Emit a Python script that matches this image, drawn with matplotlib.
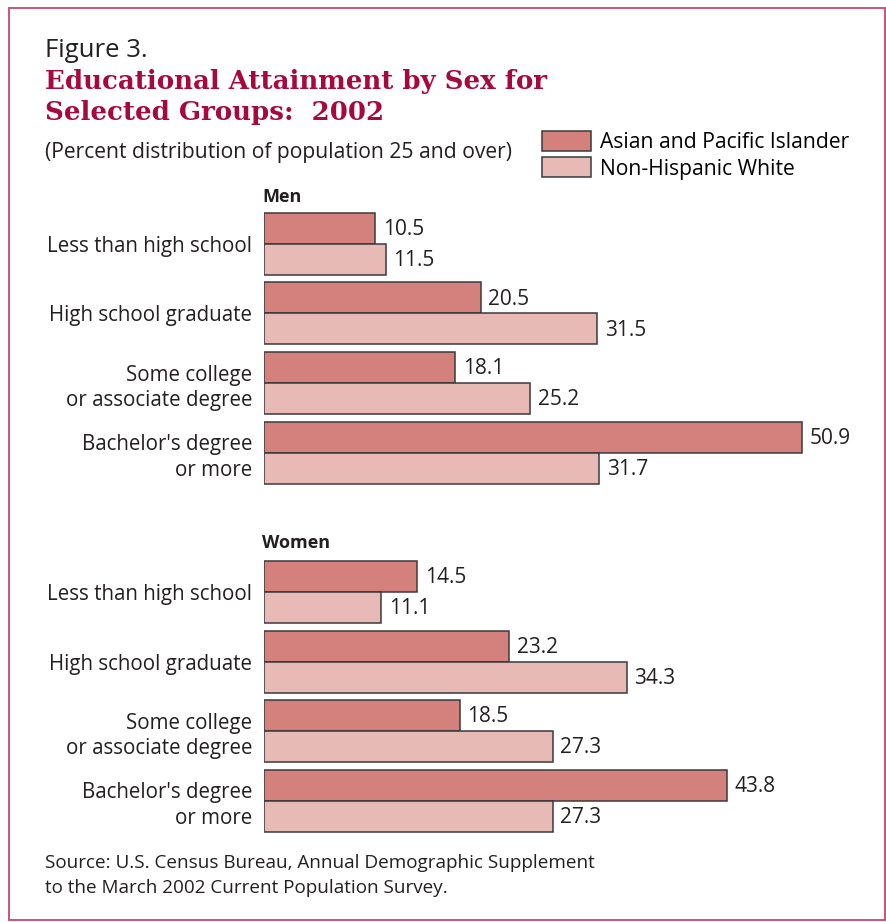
import matplotlib.pyplot as plt
from matplotlib.patches import Rectangle

categories = ["Less than high school", "High school graduate",
              "Some college\nor associate degree", "Bachelor's degree\nor more"]
series_names = ["Asian and Pacific Islander", "Non-Hispanic White"]
men_api = [10.5, 20.5, 18.1, 50.9]
men_white = [11.5, 31.5, 25.2, 31.7]
women_api = [14.5, 23.2, 18.5, 43.8]
women_white = [11.1, 34.3, 27.3, 27.3]

W, H = 886, 922
dark = "#d4807c"
light = "#e7bab6"
edge = "#3a3a3a"
red = "#a6093d"
txt = "#231f20"
body = "Open Sans"

fig = plt.figure(figsize=(W / 100, H / 100), dpi=100)


def fx(x):
    return x / W


def fy(y):
    return 1 - y / H


# frame
fig.patches.append(Rectangle((fx(9), fy(920)), fx(885) - fx(9), fy(8) - fy(920),
                             transform=fig.transFigure, fill=False,
                             edgecolor="#c8476e", linewidth=1.3))

px_per_unit = 10.57
left_px = 264
bar_h = 31 / 69.5


def panel(top_center, api, white, name, name_y):
    top = top_center - 34.75
    bottom = top + 4 * 69.5
    ax = fig.add_axes([fx(left_px), fy(bottom), fx(W - left_px), fy(top) - fy(bottom)])
    ys = list(range(len(categories)))
    b1 = ax.barh([y - bar_h / 2 for y in ys], api, height=bar_h, color=dark,
                 edgecolor=edge, linewidth=1.1)
    b2 = ax.barh([y + bar_h / 2 for y in ys], white, height=bar_h, color=light,
                 edgecolor=edge, linewidth=1.1)
    for bars, vals in ((b1, api), (b2, white)):
        for b, v in zip(bars, vals):
            ax.annotate(f"{v:.1f}", (v, b.get_y() + b.get_height() / 2),
                        xytext=(5.5, -1), textcoords="offset points",
                        va="center", ha="left", fontsize=15, color=txt,
                        family=body)
    ax.set_xlim(0, (W - left_px) / px_per_unit)
    ax.set_ylim(3.5, -0.5)
    ax.set_yticks(ys)
    ax.set_yticklabels(categories, fontsize=14.8, color=txt, family=body,
                       linespacing=1.3)
    ax.tick_params(axis="y", length=0, pad=8.5)
    ax.set_xticks([])
    for s in ax.spines.values():
        s.set_visible(False)
    fig.text(fx(262), fy(name_y), name, fontsize=13, fontweight="bold",
             color=txt, family=body, va="baseline")
    return b1, b2


h1, h2 = panel(244, men_api, men_white, "Men", 202)
panel(592, women_api, women_white, "Women", 548)

fig.text(fx(45), fy(57), "Figure 3.", fontsize=18.5, color=txt, family=body,
         va="baseline")
fig.text(fx(45), fy(89), "Educational Attainment by Sex for", fontsize=18.7,
         color=red, family="DejaVu Serif", fontweight="bold", va="baseline")
fig.text(fx(45), fy(120), "Selected Groups:  2002", fontsize=18.7,
         color=red, family="DejaVu Serif", fontweight="bold", va="baseline")
fig.text(fx(45), fy(158), "(Percent distribution of population 25 and over)",
         fontsize=15.2, color=txt, family=body, va="baseline")
fig.text(fx(45), fy(868), "Source: U.S. Census Bureau, Annual Demographic Supplement",
         fontsize=13.6, color=txt, family=body, va="baseline")
fig.text(fx(45), fy(893), "to the March 2002 Current Population Survey.",
         fontsize=13.6, color=txt, family=body, va="baseline")

fig.legend([h1, h2], series_names, loc="upper left",
           bbox_to_anchor=(fx(540), fy(129)), frameon=False,
           prop={"family": body, "size": 15.2}, handlelength=2.33,
           handleheight=1.1, labelspacing=0.18, handletextpad=0.4,
           borderaxespad=0, borderpad=0.1)

fig.savefig("out.png", dpi=100)
